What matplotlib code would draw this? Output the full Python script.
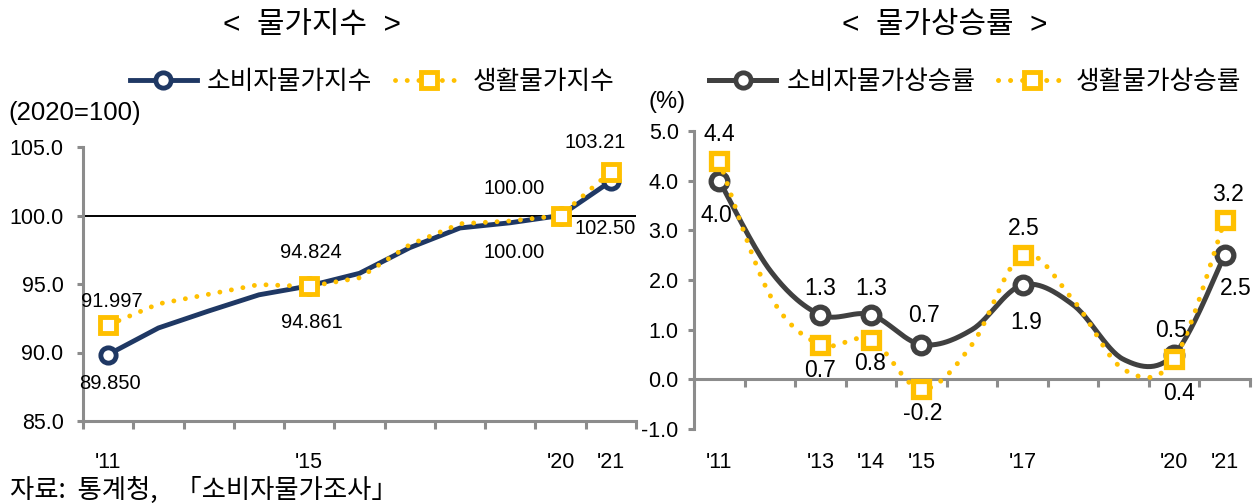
import numpy as np
import matplotlib.pyplot as plt

plt.rcParams['font.family'] = ['Liberation Sans', 'Noto Sans CJK KR', 'DejaVu Sans']

# 데이터
years = list(range(2011, 2022))
cpi_idx = [89.850, 91.79, 93.03, 94.21, 94.861, 95.78, 97.65, 99.09, 99.47, 100.00, 102.50]
liv_idx = [91.997, 93.55, 94.25, 94.96, 94.824, 95.45, 97.87, 99.40, 99.60, 100.00, 103.21]
cpi_rate = [4.0, 2.2, 1.3, 1.3, 0.7, 1.0, 1.9, 1.5, 0.4, 0.5, 2.5]
liv_rate = [4.4, 1.7, 0.7, 0.8, -0.2, 0.7, 2.5, 1.6, 0.2, 0.4, 3.2]
idx_marked = [2011, 2015, 2020, 2021]
rate_marked = [2011, 2013, 2014, 2015, 2017, 2020, 2021]

NAVY = '#1f3864'
DARK = '#404040'
YEL = '#ffc000'
AXC = '#8c8c8c'
KR = ['Noto Sans CJK KR']

x = np.arange(len(years))


def smooth(xs, ys, n=30):
    # 엑셀식 부드러운 선 (Catmull-Rom)
    p = np.column_stack([xs, ys]).astype(float)
    p = np.vstack([p[0], p, p[-1]])
    t = np.linspace(0, 1, n, endpoint=False)[:, None]
    h00 = 2*t**3 - 3*t**2 + 1
    h10 = t**3 - 2*t**2 + t
    h01 = -2*t**3 + 3*t**2
    h11 = t**3 - t**2
    out = []
    for i in range(1, len(p) - 2):
        m1 = (p[i+1] - p[i-1]) / 2
        m2 = (p[i+2] - p[i]) / 2
        out.append(h00*p[i] + h10*m1 + h01*p[i+1] + h11*m2)
    out.append(p[-2][None, :])
    out = np.vstack(out)
    return out[:, 0], out[:, 1]


def style_axis(ax, ypad):
    for s in ['top', 'right']:
        ax.spines[s].set_visible(False)
    for s in ['left', 'bottom']:
        ax.spines[s].set_color(AXC)
        ax.spines[s].set_linewidth(2.2)
    ax.set_xlim(-0.5, len(years) - 0.5)
    ax.set_xticks(np.arange(len(years) + 1) - 0.5, minor=True)
    ax.tick_params(axis='x', which='minor', length=6, width=2.2, color=AXC, direction='out')
    ax.tick_params(axis='x', which='major', length=0)
    ax.tick_params(axis='y', length=4, width=2.2, color=AXC, direction='out', labelsize=15.5, pad=ypad)


def short(years_list):
    return ["'" + str(y)[2:] for y in years_list]


fig = plt.figure(figsize=(12.55, 5.03), dpi=100)

# ---------- 물가지수 ----------
ax1 = fig.add_axes([83/1255, 1 - 421/503, 553/1255, 274/503])
style_axis(ax1, 10)
ax1.set_ylim(85, 105)
ax1.set_yticks([85, 90, 95, 100, 105])
ax1.set_yticklabels([f'{v:.1f}' for v in [85, 90, 95, 100, 105]])
ax1.axhline(100, color='black', lw=1.4, zorder=1)

mi = [years.index(y) for y in idx_marked]
ax1.plot(x, cpi_idx, color=NAVY, lw=3.5, zorder=3)
ax1.plot(x[mi], np.array(cpi_idx)[mi], 'o', ms=11, mfc='white', mec=NAVY, mew=3.5, zorder=4)
ax1.plot(x, liv_idx, color=YEL, lw=3.5, ls=(0, (0.01, 2.4)), dash_capstyle='round', zorder=5)
ax1.plot(x[mi], np.array(liv_idx)[mi], 's', ms=11.5, mfc='white', mec=YEL, mew=3.5, zorder=6)

ax1.set_xticks(x[mi])
ax1.set_xticklabels(short(idx_marked), fontsize=15.5)
ax1.tick_params(axis='x', which='major', pad=22)

fmt = lambda v: f'{v:.3f}' if v < 100 else f'{v:.2f}'
cpi_off = [(2, -29), (3, -37), (-46, -37), (-6, -47)]
liv_off = [(4, 24), (2, 34), (-46, 27), (-16, 29)]
for k, i in enumerate(mi):
    for vals, off in ((cpi_idx, cpi_off), (liv_idx, liv_off)):
        dx, dy = off[k]
        ax1.annotate(fmt(vals[i]), (x[i], vals[i]), xytext=(dx*0.72, dy*0.72),
                     textcoords='offset points', ha='center', va='center',
                     fontsize=14.5, zorder=7)

l1 = [plt.Line2D([], [], color=NAVY, lw=3.5, marker='o', ms=11, mfc='white', mec=NAVY, mew=3.5),
      plt.Line2D([], [], color=YEL, lw=3.5, ls=(0, (0.01, 2.4)), dash_capstyle='round',
                 marker='s', ms=11, mfc='white', mec=YEL, mew=3.5)]
fig.legend(l1, ['소비자물가지수', '생활물가지수'], loc='center', bbox_to_anchor=(372/1255, 1 - 82/503),
           ncol=2, frameon=False, prop={'family': KR, 'size': 18.5}, handlelength=2.6,
           handletextpad=0.4, columnspacing=0.9)

fig.text(8/1255, 1 - 113/503, '(2020=100)', fontsize=18.5, va='center', ha='left')
fig.text(312/1255, 1 - 25/503, '<  물가지수  >', fontsize=21.5, ha='center', va='center',
         family=['Liberation Sans', 'Noto Sans CJK KR'], weight='medium')

# ---------- 물가상승률 ----------
ax2 = fig.add_axes([694/1255, 1 - 429/503, 556/1255, 298/503])
style_axis(ax2, 7)
ax2.set_ylim(-1, 5)
ax2.set_yticks(np.arange(-1, 6))
ax2.set_yticklabels([f'{v:.1f}' for v in np.arange(-1, 6)])
ax2.spines['bottom'].set_position(('data', 0))

ri = [years.index(y) for y in rate_marked]
sx, sy = smooth(x, cpi_rate)
ax2.plot(sx, sy, color=DARK, lw=3.6, zorder=3)
ax2.plot(x[ri], np.array(cpi_rate)[ri], 'o', ms=12, mfc='white', mec=DARK, mew=3.8, zorder=4)
sx, sy = smooth(x, liv_rate)
ax2.plot(sx, sy, color=YEL, lw=3.6, ls=(0, (0.01, 2.4)), dash_capstyle='round', zorder=5)
ax2.plot(x[ri], np.array(liv_rate)[ri], 's', ms=12, mfc='white', mec=YEL, mew=3.8, zorder=6)

ax2.set_xticks(x[ri])
ax2.set_xticklabels(short(rate_marked), fontsize=15.5)
ax2.tick_params(axis='x', which='major', pad=52)

cpi_off2 = [(-3, -35), (0, 26), (0, 26), (3, 29), (4, -38), (-3, 24), (11, -33)]
liv_off2 = [(0, 26), (0, -26), (-1, -24), (1, -24), (1, 27), (5, -34), (3, 26)]
for k, i in enumerate(ri):
    for vals, off in ((cpi_rate, cpi_off2), (liv_rate, liv_off2)):
        dx, dy = off[k]
        ax2.annotate(f'{vals[i]:.1f}', (x[i], vals[i]), xytext=(dx*0.72, dy*0.72),
                     textcoords='offset points', ha='center', va='center',
                     fontsize=16.5, zorder=7)

l2 = [plt.Line2D([], [], color=DARK, lw=3.6, marker='o', ms=11, mfc='white', mec=DARK, mew=3.5),
      plt.Line2D([], [], color=YEL, lw=3.6, ls=(0, (0.01, 2.4)), dash_capstyle='round',
                 marker='s', ms=11, mfc='white', mec=YEL, mew=3.5)]
fig.legend(l2, ['소비자물가상승률', '생활물가상승률'], loc='center', bbox_to_anchor=(975/1255, 1 - 82/503),
           ncol=2, frameon=False, prop={'family': KR, 'size': 18.5}, handlelength=2.6,
           handletextpad=0.4, columnspacing=0.9)

fig.text(648/1255, 1 - 102/503, '(%)', fontsize=17, va='center', ha='left')
fig.text(945/1255, 1 - 25/503, '<  물가상승률  >', fontsize=21.5, ha='center', va='center',
         family=['Liberation Sans', 'Noto Sans CJK KR'], weight='medium')

fig.text(10/1255, 1 - 490/503, '자료:  통계청,   「소비자물가조사」', fontsize=19, va='center', ha='left',
         family=KR, weight='light')

fig.savefig('out.png', dpi=100)
